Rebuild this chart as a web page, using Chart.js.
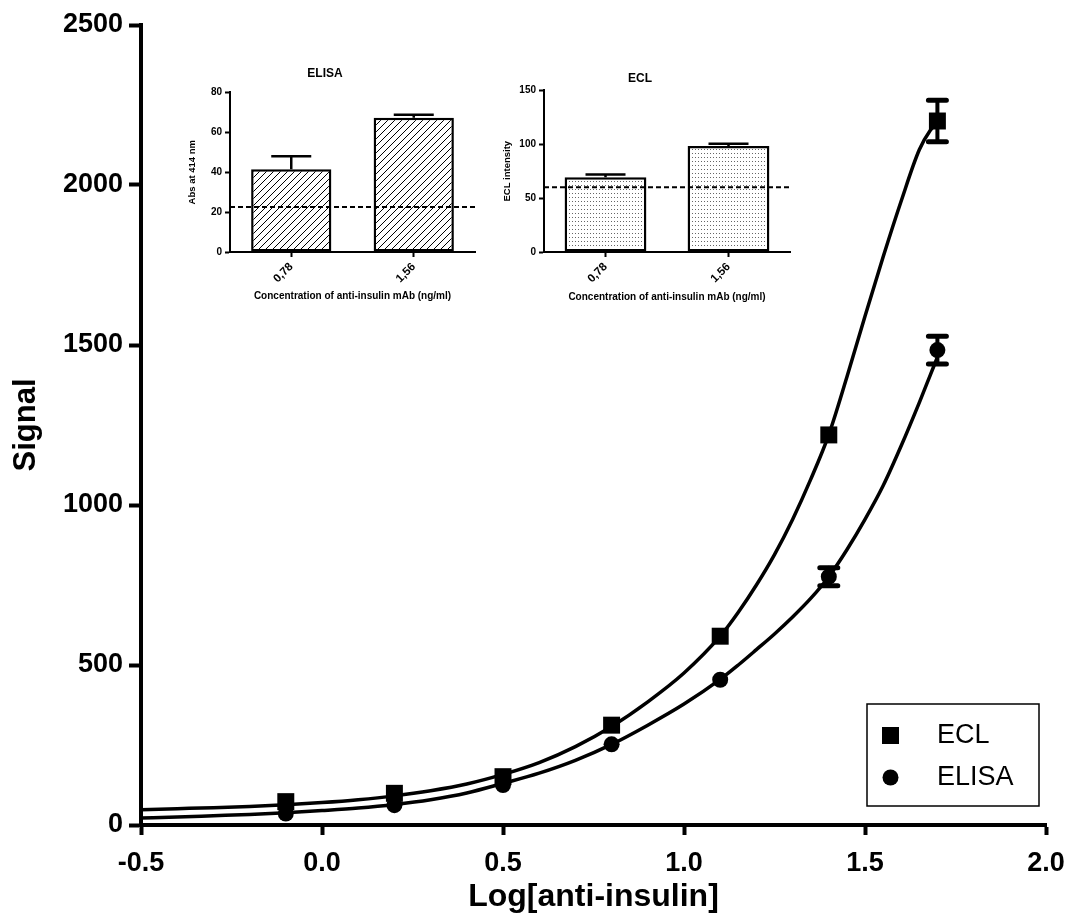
<!DOCTYPE html>
<html>
<head>
<meta charset="utf-8">
<script src="https://cdn.jsdelivr.net/npm/chart.js@4.4.0/dist/chart.umd.min.js"></script>
<style>
  body { margin: 0; background: #fff; }
  #wrap { position: relative; width: 1068px; height: 923px; }
  canvas { position: absolute; }
</style>
</head>
<body>
<div id="wrap">
  <canvas id="main" width="1068" height="923" style="left:0;top:0"></canvas>
  <canvas id="insetElisa" width="310" height="250" style="left:175px;top:60px"></canvas>
  <canvas id="insetEcl" width="310" height="250" style="left:490px;top:60px"></canvas>
</div>
<script>
// main plot: measured points
const logDose = [-0.1, 0.2, 0.5, 0.8, 1.1, 1.4, 1.7];
const eclSignal = [73, 99, 151, 312, 590, 1219, 2200];
const eclErr = [0, 0, 0, 0, 0, 0, 65];
const elisaSignal = [36, 62, 125, 252, 454, 776, 1484];
const elisaErr = [0, 0, 0, 0, 0, 28, 43];

// fitted curves
const fitX = [-0.5, -0.4, -0.3, -0.2, -0.1, 0, 0.1, 0.2, 0.3, 0.4, 0.5, 0.6, 0.7, 0.8, 0.9, 1.0,
              1.1, 1.15, 1.2, 1.25, 1.3, 1.35, 1.4, 1.45, 1.5, 1.55, 1.6, 1.65, 1.68, 1.7];
const eclFit = [48, 51, 54, 58, 63, 70, 79, 91, 107, 128, 158, 195, 245, 308, 385, 475,
                590, 665, 750, 845, 955, 1080, 1220, 1400, 1590, 1775, 1950, 2110, 2170, 2195];
const elisaFit = [22, 25, 29, 33, 38, 45, 53, 64, 79, 100, 130, 162, 202, 252, 312, 378,
                  455, 500, 548, 597, 650, 708, 776, 860, 955, 1060, 1185, 1320, 1405, 1462];

// insets
const insetLabels = ['0,78', '1,56'];
const elisaAbs = [41.5, 67.3];
const elisaAbsErr = [6.5, 1.5];
const elisaCutoff = 22.5;
const eclIntensity = [69.3, 98.5];
const eclIntensityErr = [2.7, 1.9];
const eclCutoff = 60;

const FONT = "'Liberation Sans', Arial, sans-serif";
Chart.defaults.font.family = FONT;
Chart.defaults.color = '#000';

const pts = (xs, ys) => xs.map((x, i) => ({ x: x, y: ys[i] }));

const errorBars = {
    id: 'errorBars',
    afterDatasetsDraw(chart) {
        const ctx = chart.ctx;
        const y = chart.scales.y;
        chart.data.datasets.forEach((ds, di) => {
            if (!ds.errors) return;
            const meta = chart.getDatasetMeta(di);
            meta.data.forEach((p, i) => {
                const e = ds.errors[i];
                if (!e) return;
                const v = ds.data[i].y;
                const top = y.getPixelForValue(v + e);
                const bot = y.getPixelForValue(v - e);
                ctx.save();
                ctx.strokeStyle = '#000';
                ctx.lineCap = 'round';
                ctx.lineWidth = 4;
                ctx.beginPath();
                ctx.moveTo(p.x, top);
                ctx.lineTo(p.x, bot);
                ctx.stroke();
                ctx.lineWidth = 5;
                ctx.beginPath();
                ctx.moveTo(p.x - 9, top); ctx.lineTo(p.x + 9, top);
                ctx.moveTo(p.x - 9, bot); ctx.lineTo(p.x + 9, bot);
                ctx.stroke();
                ctx.restore();
            });
        });
    }
};

const legendBox = {
    id: 'legendBox',
    afterDraw(chart) {
        const ctx = chart.ctx;
        const a = chart.chartArea;
        const x0 = a.right - 179, y0 = a.bottom - 121;
        ctx.save();
        ctx.strokeStyle = '#000';
        ctx.lineWidth = 1.5;
        ctx.strokeRect(x0, y0, 172, 102);
        ctx.fillStyle = '#000';
        // square marker
        ctx.fillRect(x0 + 15, y0 + 23, 17, 17);
        // circle marker
        ctx.beginPath();
        ctx.arc(x0 + 23.5, y0 + 73.5, 8, 0, Math.PI * 2);
        ctx.fill();
        ctx.font = '27px ' + FONT;
        ctx.textBaseline = 'middle';
        ctx.fillText('ECL', x0 + 70, y0 + 32);
        ctx.fillText('ELISA', x0 + 70, y0 + 74);
        ctx.restore();
    }
};

new Chart(document.getElementById('main'), {
    type: 'scatter',
    data: {
        datasets: [
            {
                type: 'line', label: 'ECL fit', data: pts(fitX, eclFit),
                borderColor: '#000', borderWidth: 3.5, pointRadius: 0,
                showLine: true, cubicInterpolationMode: 'monotone', fill: false
            },
            {
                type: 'line', label: 'ELISA fit', data: pts(fitX, elisaFit),
                borderColor: '#000', borderWidth: 3.5, pointRadius: 0,
                showLine: true, cubicInterpolationMode: 'monotone', fill: false
            },
            {
                label: 'ECL', data: pts(logDose, eclSignal), errors: eclErr,
                pointStyle: 'rect', pointRadius: 12, backgroundColor: '#000',
                borderColor: '#000', borderWidth: 0
            },
            {
                label: 'ELISA', data: pts(logDose, elisaSignal), errors: elisaErr,
                pointStyle: 'circle', pointRadius: 8, backgroundColor: '#000',
                borderColor: '#000', borderWidth: 0
            }
        ]
    },
    options: {
        responsive: false,
        animation: false,
        layout: { padding: { top: 25, right: 22, left: 0, bottom: 0 } },
        plugins: { legend: { display: false }, tooltip: { enabled: false } },
        scales: {
            x: {
                type: 'linear', min: -0.5, max: 2.0,
                ticks: {
                    stepSize: 0.5, padding: 12, color: '#000',
                    font: { size: 27, weight: 'bold' },
                    callback: (v) => v.toFixed(1)
                },
                grid: { drawOnChartArea: false, tickLength: 10, tickWidth: 4, color: '#000' },
                border: { color: '#000', width: 4 },
                title: {
                    display: true, text: 'Log[anti-insulin]', color: '#000',
                    font: { size: 32, weight: 'bold' }, padding: { top: 0, bottom: 7 }
                },
                afterFit: (s) => { s.height = 98; s.paddingRight = 20; s.paddingLeft = 20; }
            },
            y: {
                min: 0, max: 2500,
                ticks: {
                    stepSize: 500, padding: 6, color: '#000',
                    font: { size: 27, weight: 'bold' },
                    callback: (v) => String(v)
                },
                grid: { drawOnChartArea: false, tickLength: 12, tickWidth: 4, color: '#000' },
                border: { color: '#000', width: 4 },
                title: {
                    display: true, text: 'Signal', color: '#000',
                    font: { size: 31, weight: 'bold' }, padding: { top: 8, bottom: 0 }
                },
                afterFit: (s) => { s.width = 141; }
            }
        }
    },
    plugins: [errorBars, legendBox]
});

function hatchPattern() {
    const c = document.createElement('canvas');
    c.width = 7; c.height = 7;
    const g = c.getContext('2d');
    g.fillStyle = '#fff';
    g.fillRect(0, 0, 7, 7);
    g.strokeStyle = '#000';
    g.lineWidth = 1;
    g.beginPath();
    g.moveTo(-1, 8); g.lineTo(8, -1);
    g.moveTo(-1, 1); g.lineTo(1, -1);
    g.moveTo(6, 8); g.lineTo(8, 6);
    g.stroke();
    return g.createPattern(c, 'repeat');
}

function dotPattern() {
    const c = document.createElement('canvas');
    c.width = 3; c.height = 4;
    const g = c.getContext('2d');
    g.fillStyle = '#fff';
    g.fillRect(0, 0, 3, 4);
    g.fillStyle = '#666';
    g.fillRect(1, 1, 1, 1);
    return g.createPattern(c, 'repeat');
}

const insetMarks = {
    id: 'insetMarks',
    afterDatasetsDraw(chart) {
        const ctx = chart.ctx;
        const a = chart.chartArea;
        const y = chart.scales.y;
        const ds = chart.data.datasets[0];
        const meta = chart.getDatasetMeta(0);
        ctx.save();
        ctx.strokeStyle = '#000';
        ctx.lineWidth = 2.5;
        meta.data.forEach((bar, i) => {
            const top = y.getPixelForValue(ds.data[i] + ds.errors[i]);
            ctx.beginPath();
            ctx.moveTo(bar.x, bar.y);
            ctx.lineTo(bar.x, top);
            ctx.moveTo(bar.x - 20, top);
            ctx.lineTo(bar.x + 20, top);
            ctx.stroke();
        });
        const cy = y.getPixelForValue(ds.cutoff);
        ctx.lineWidth = 2;
        ctx.setLineDash([5, 3]);
        ctx.beginPath();
        ctx.moveTo(a.left, cy);
        ctx.lineTo(a.right, cy);
        ctx.stroke();
        ctx.restore();
    }
};

function makeInset(id, title, yTitle, values, errors, cutoff, yMax, yStep, fill, cfg) {
    new Chart(document.getElementById(id), {
        type: 'bar',
        data: {
            labels: insetLabels,
            datasets: [{
                data: values, errors: errors, cutoff: cutoff,
                backgroundColor: fill, borderColor: '#000', borderWidth: 2.5,
                borderSkipped: false, categoryPercentage: 1, barPercentage: cfg.bar
            }]
        },
        options: {
            responsive: false,
            animation: false,
            layout: { padding: { top: 0, right: 10, left: 0, bottom: 0 } },
            plugins: {
                legend: { display: false },
                tooltip: { enabled: false },
                title: {
                    display: true, text: title, color: '#000',
                    font: { size: 12, weight: 'bold' },
                    padding: { top: cfg.titleTop, bottom: cfg.titleBottom }
                }
            },
            scales: {
                x: {
                    ticks: {
                        minRotation: 45, maxRotation: 45, padding: 3, color: '#000',
                        font: { size: 11.5, weight: 'bold' }
                    },
                    grid: { offset: false, drawOnChartArea: false, tickLength: 5, tickWidth: 2, color: '#000' },
                    border: { color: '#000', width: 2 },
                    title: {
                        display: true, text: 'Concentration of anti-insulin mAb (ng/ml)', color: '#000',
                        font: { size: 10, weight: 'bold' }, padding: { top: 0, bottom: cfg.xTitleBottom }
                    },
                    afterFit: (s) => { s.height = 58; }
                },
                y: {
                    min: 0, max: yMax,
                    ticks: {
                        stepSize: yStep, padding: 3, color: '#000',
                        font: { size: 10, weight: 'bold' }
                    },
                    grid: { drawOnChartArea: false, tickLength: 5, tickWidth: 2, color: '#000' },
                    border: { color: '#000', width: 2 },
                    title: {
                        display: true, text: yTitle, color: '#000',
                        font: { size: 9.5, weight: 'bold' }, padding: { top: cfg.yTitleTop, bottom: 0 }
                    },
                    afterFit: (s) => { s.width = cfg.yWidth; }
                }
            }
        },
        plugins: [insetMarks]
    });
}

makeInset('insetElisa', 'ELISA', 'Abs at 414 nm', elisaAbs, elisaAbsErr, elisaCutoff, 80, 20, hatchPattern(),
    { bar: 0.655, titleTop: 6, titleBottom: 12, xTitleBottom: 8, yTitleTop: 12, yWidth: 55 });
makeInset('insetEcl', 'ECL', 'ECL intensity', eclIntensity, eclIntensityErr, eclCutoff, 150, 50, dotPattern(),
    { bar: 0.665, titleTop: 11, titleBottom: 5, xTitleBottom: 6.5, yTitleTop: 12, yWidth: 54 });
</script>
</body>
</html>
